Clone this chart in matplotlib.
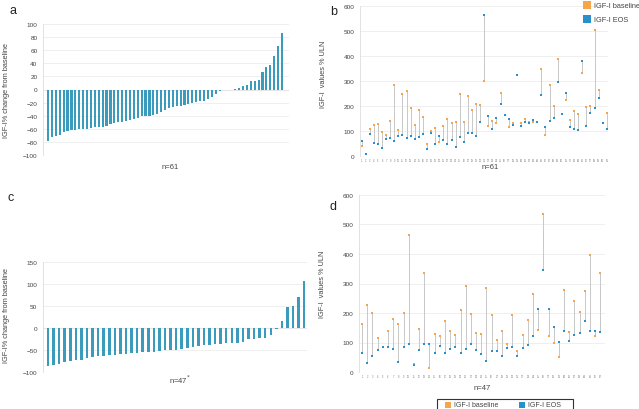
import matplotlib
matplotlib.use("Agg")
import matplotlib.pyplot as plt
import numpy as np
from matplotlib.patches import Rectangle

plt.rcParams['font.family'] = ['Liberation Sans', 'DejaVu Sans']

# ---------------- data ----------------
change_a = [-78, -73, -71, -69, -65, -63, -62, -62, -61, -61, -60, -59, -58, -57, -57,
            -56, -53, -51, -50, -49, -48, -47, -45, -43, -41, -40, -40, -39, -37, -35,
            -32, -29, -27, -25, -25, -24, -22, -20, -19, -18, -17, -15, -12, -7, -3,
            0, 0, 0,
            1, 2, 5, 7, 13, 13, 15, 27, 35, 37, 51, 66, 87]

change_c = [-87, -85, -81, -78, -74, -73, -72, -69, -65, -64,
            -63, -62, -61, -59, -58, -57, -56, -55, -54, -54,
            -53, -50, -50, -49, -48, -46, -43, -41, -39, -38,
            -37, -36, -35, -34, -33, -32, -26, -24, -23, -22,
            -15, -2, 15, 47, 49, 70, 107]

baseline_b = [41, 9, 109, 125, 129, 96, 85, 142, 286, 103,
              248, 259, 191, 125, 185, 155, 47, 100, 111, 55,
              122, 149, 132, 138, 250, 137, 240, 186, 209, 205,
              300, 120, 141, 134, 253, 166, 118, 131, 324, 131,
              150, 137, 137, 135, 348, 84, 284, 201, 388, 167,
              224, 143, 179, 167, 333, 197, 201, 506, 264, 134, 171]
eos_b = [61, 9, 88, 53, 47, 34, 69, 73, 60, 79,
         83, 71, 79, 69, 76, 88, 30, 94, 50, 80,
         64, 50, 66, 37, 75, 56, 91, 91, 81, 136,
         563, 162, 107, 154, 210, 166, 150, 126, 324, 122,
         137, 134, 143, 135, 244, 117, 141, 154, 295, 167,
         254, 118, 110, 103, 379, 120, 171, 194, 232, 134, 107]

baseline_d = [164, 226, 200, 115, 85, 139, 181, 164, 201, 465,
              26, 147, 336, 14, 128, 121, 174, 139, 124, 210,
              291, 196, 131, 130, 284, 192, 107, 140, 95, 193,
              70, 126, 177, 265, 141, 534, 123, 98, 50, 278,
              134, 240, 203, 273, 395, 121, 335]
eos_d = [64, 32, 54, 76, 85, 84, 79, 34, 86, 94,
         23, 73, 95, 94, 64, 88, 65, 79, 84, 64,
         78, 94, 74, 61, 36, 70, 70, 54, 80, 84,
         54, 80, 90, 123, 214, 345, 212, 153, 103, 138,
         105, 125, 133, 173, 139, 139, 134]

# ---------------- style ----------------
W, H = 639, 410
BAR = '#3b9bbd'
ORANGE = '#f5a54a'
BLUE = '#2b8fcb'
GRID = '#ececec'
LINE = '#c8c8c8'
TXT = '#444444'

fig = plt.figure(figsize=(W / 100, H / 100), dpi=100)
fig.patch.set_facecolor('white')


def ax_px(l, t, r, b):
    return fig.add_axes([l / W, 1 - b / H, (r - l) / W, (b - t) / H])


def style(ax):
    for s in ['top', 'right', 'bottom']:
        ax.spines[s].set_visible(False)
    ax.spines['left'].set_color('#dddddd')
    ax.spines['left'].set_linewidth(0.6)
    ax.tick_params(axis='y', labelsize=4.6, length=0, pad=4, labelcolor=TXT)
    ax.set_axisbelow(True)
    ax.yaxis.grid(True, color=GRID, linewidth=0.6)


# ---------- panel a ----------
ax = ax_px(43, 25, 289, 156)
xa = np.arange(len(change_a))
ax.bar(xa, change_a, width=0.55, color=BAR)
ax.set_ylim(-100, 100)
ax.set_xlim(-1.3, len(change_a) + 0.8)
ax.set_yticks(np.arange(-100, 101, 20))
ax.axhline(0, color='#d0d0d0', linewidth=0.8, zorder=0.5)
ax.set_xticks([])
style(ax)
ax.set_ylabel('IGF-I% change from baseline', fontsize=5.3, color=TXT, labelpad=3)
ax.yaxis.set_label_coords(-33 / 246, 0.5)
fig.text(170 / W, 1 - 168 / H, 'n=61', fontsize=5.5, color=TXT, ha='center', va='center')
fig.text(10 / W, 1 - 11 / H, 'a', fontsize=9, color='#222222', ha='left', va='center')

# ---------- panel c ----------
ax = ax_px(43, 263, 307, 373)
xc = np.arange(len(change_c))
ax.bar(xc, change_c, width=0.45, color=BAR)
ax.set_ylim(-100, 150)
ax.set_xlim(-0.9, len(change_c) - 0.5)
ax.set_yticks(np.arange(-100, 151, 50))
ax.axhline(0, color='#d0d0d0', linewidth=0.8, zorder=0.5)
ax.set_xticks([])
style(ax)
ax.set_ylabel('IGF-I% change from baseline', fontsize=5.3, color=TXT)
ax.yaxis.set_label_coords(-33 / 264, 0.52)
fig.text(180 / W, 1 - 380 / H, 'n=47$^{*}$', fontsize=5.5, color=TXT, ha='center', va='center')
fig.text(8 / W, 1 - 198 / H, 'c', fontsize=9, color='#222222', ha='left', va='center')


def dumbbell(ax, base, eos):
    x = np.arange(len(base))
    ax.vlines(x, np.minimum(base, eos), np.maximum(base, eos), color=LINE, linewidth=0.7, zorder=2)
    ax.plot(x, base, 's', color=ORANGE, markersize=1.8, markeredgewidth=0, zorder=3)
    ax.plot(x, eos, 's', color=BLUE, markersize=1.8, markeredgewidth=0, zorder=4)
    ax.set_ylim(0, 600)
    ax.set_yticks(np.arange(0, 601, 100))
    ax.set_xticks(x)
    ax.set_xticklabels([str(i + 1) for i in x], fontsize=1.8, color='#777777')
    ax.tick_params(axis='x', length=0, pad=1.5)
    style(ax)
    ax.axhline(0, color='#d0d0d0', linewidth=0.7, zorder=0.5)


# ---------- panel b ----------
ax = ax_px(360, 7, 608, 157)
dumbbell(ax, baseline_b, eos_b)
ax.set_xlim(-0.4, len(baseline_b) - 0.7)
ax.set_ylabel('IGF-I  values % ULN', fontsize=5.3, color=TXT)
ax.yaxis.set_label_coords(-33 / 248, 0.55)
fig.text(490 / W, 1 - 168 / H, 'n=61', fontsize=5.5, color=TXT, ha='center', va='center')
fig.text(330 / W, 1 - 12 / H, 'b', fontsize=9, color='#222222', ha='left', va='center')
# legend (top right)
for yy, col, lab in [(6, ORANGE, 'IGF-I baseline'), (20, BLUE, 'IGF-I EOS')]:
    fig.add_artist(Rectangle((583 / W, 1 - (yy + 4) / H), 8 / W, 8 / H,
                             transform=fig.transFigure, color=col, lw=0))
    fig.text(594 / W, 1 - yy / H, lab, fontsize=5.3, color=TXT, ha='left', va='center')

# ---------- panel d ----------
ax = ax_px(359, 196, 605, 373)
dumbbell(ax, baseline_d, eos_d)
ax.set_xlim(-0.6, len(baseline_d) - 0.1)
ax.set_ylabel('IGF-I  values % ULN', fontsize=5.3, color=TXT)
ax.yaxis.set_label_coords(-33 / 246, 0.5)
fig.text(482 / W, 1 - 389 / H, 'n=47', fontsize=5.5, color=TXT, ha='center', va='center')
fig.text(330 / W, 1 - 207 / H, 'd', fontsize=9, color='#222222', ha='left', va='center')
# bottom legend
fig.add_artist(Rectangle((437 / W, 1 - 413 / H), 136 / W, 13.5 / H, transform=fig.transFigure,
                         facecolor='white', edgecolor='#333333', lw=0.8))
for xx, col, lab in [(445, ORANGE, 'IGF-I baseline'), (519, BLUE, 'IGF-I EOS')]:
    fig.add_artist(Rectangle((xx / W, 1 - 408.5 / H), 6 / W, 6 / H,
                             transform=fig.transFigure, color=col, lw=0))
    fig.text((xx + 9) / W, 1 - 405.5 / H, lab, fontsize=5.0, color=TXT, ha='left', va='center')

fig.savefig('out.png', dpi=100, facecolor='white')
